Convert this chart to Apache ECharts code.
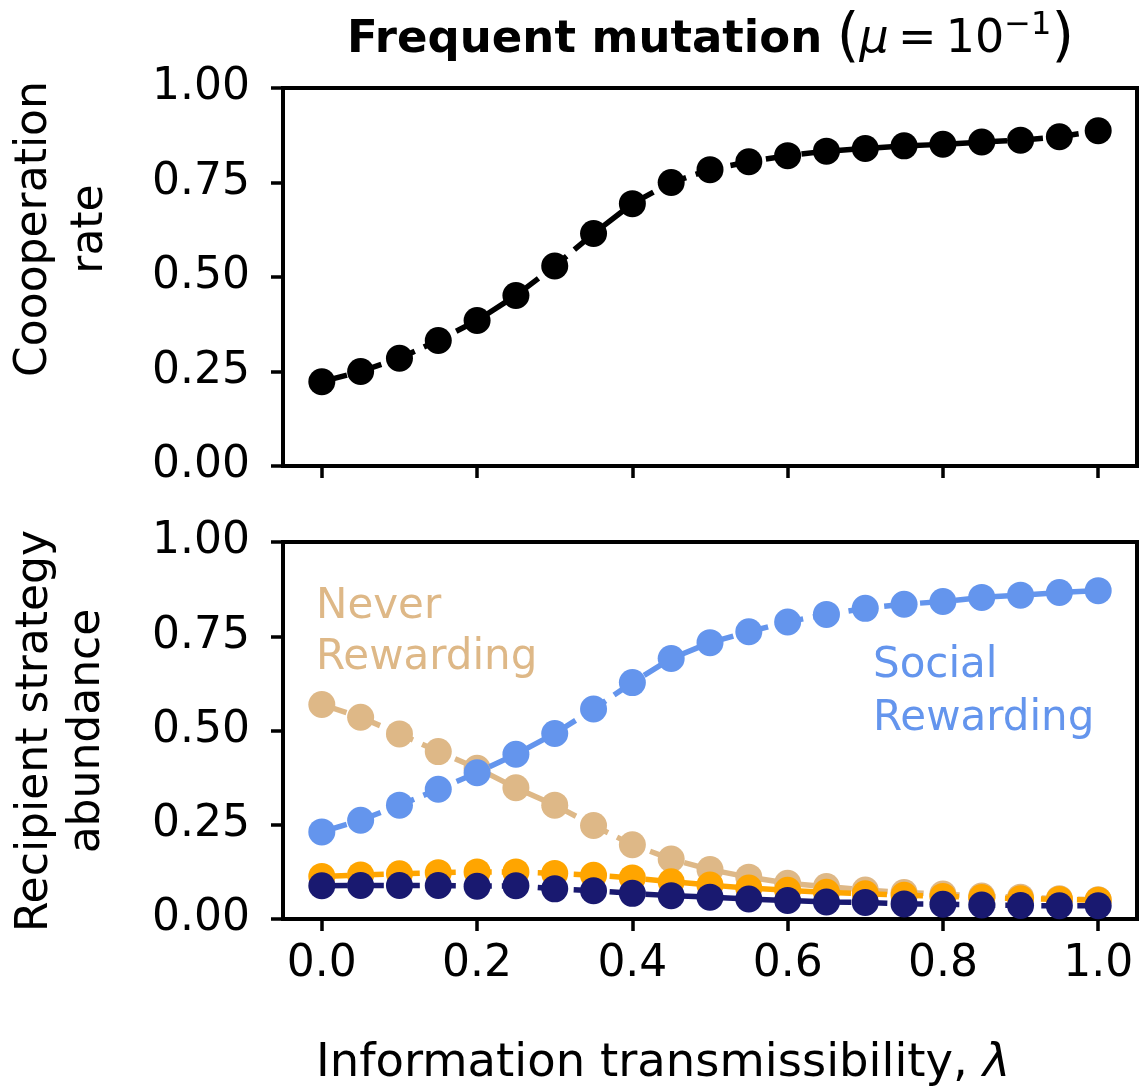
<!DOCTYPE html>
<html>
<head>
<meta charset="utf-8">
<script src="https://cdn.jsdelivr.net/npm/echarts@6/dist/echarts.min.js"></script>
<style>
  html, body { margin: 0; padding: 0; background: #fff; }
  #chart { width: 1139px; height: 1092px; }
</style>
</head>
<body>
<div id="chart"></div>
<script>
// information transmissibility values (x)
var lambda = [0, 0.05, 0.1, 0.15, 0.2, 0.25, 0.3, 0.35, 0.4, 0.45, 0.5,
  0.55, 0.6, 0.65, 0.7, 0.75, 0.8, 0.85, 0.9, 0.95, 1.0];
var xTicks = [0, 0.2, 0.4, 0.6, 0.8, 1.0];

// top panel
var coopRate = [0.223, 0.250, 0.285, 0.332, 0.385, 0.451, 0.529, 0.615, 0.694, 0.750, 0.784,
  0.805, 0.821, 0.833, 0.840, 0.847, 0.851, 0.857, 0.862, 0.871, 0.887];

// bottom panel
var neverRewarding = [0.569, 0.535, 0.491, 0.444, 0.400, 0.348, 0.302, 0.248, 0.197, 0.159, 0.131,
  0.111, 0.095, 0.086, 0.077, 0.070, 0.066, 0.061, 0.058, 0.054, 0.051];
var socialRewarding = [0.231, 0.262, 0.302, 0.344, 0.388, 0.437, 0.492, 0.557, 0.627, 0.691, 0.733,
  0.762, 0.788, 0.808, 0.824, 0.835, 0.842, 0.853, 0.859, 0.866, 0.871];
var orangeStrategy = [0.113, 0.117, 0.120, 0.123, 0.125, 0.125, 0.121, 0.116, 0.109, 0.099, 0.090,
  0.082, 0.076, 0.071, 0.067, 0.063, 0.060, 0.057, 0.054, 0.052, 0.050];
var navyStrategy = [0.088, 0.089, 0.089, 0.089, 0.087, 0.088, 0.080, 0.075, 0.068, 0.062, 0.058,
  0.053, 0.049, 0.045, 0.044, 0.040, 0.039, 0.037, 0.036, 0.035, 0.035];

var FONT = 'DejaVu Sans';

function pairs(ys) {
  return lambda.map(function (x, i) { return [x, ys[i]]; });
}

function lineSeries(name, ys, color, axis, z) {
  return {
    name: name,
    type: 'line',
    xAxisIndex: axis,
    yAxisIndex: axis,
    data: pairs(ys),
    symbol: 'circle',
    symbolSize: 27,
    z: z,
    itemStyle: { color: color },
    lineStyle: { color: color, width: 5.5, type: [26, 10] },
    animation: false
  };
}

function xAxis(idx, showLabels) {
  return {
    type: 'value',
    gridIndex: idx,
    min: -0.05,
    max: 1.05,
    axisLine: { show: false, onZero: false },
    splitLine: { show: false },
    axisTick: {
      show: true, length: 12, customValues: xTicks,
      lineStyle: { color: '#000', width: 3.5 }
    },
    axisLabel: {
      show: showLabels, customValues: xTicks, margin: 24,
      fontFamily: FONT, fontSize: 44, color: '#000',
      formatter: function (v) { return v.toFixed(1); }
    }
  };
}

function yAxis(idx) {
  return {
    type: 'value',
    gridIndex: idx,
    min: 0,
    max: 1,
    interval: 0.25,
    axisLine: { show: false, onZero: false },
    splitLine: { show: false },
    axisTick: { show: true, length: 12, lineStyle: { color: '#000', width: 3.5 } },
    axisLabel: {
      margin: 33, fontFamily: FONT, fontSize: 44, color: '#000',
      formatter: function (v) { return v.toFixed(2); }
    }
  };
}

var myChart = echarts.init(document.getElementById('chart'), null, { renderer: 'canvas' });

var option = {
  animation: false,
  backgroundColor: '#fff',
  grid: [
    { left: 283, top: 88, width: 854, height: 378, show: true, borderColor: '#000', borderWidth: 4, backgroundColor: 'transparent' },
    { left: 283, top: 542, width: 854, height: 377, show: true, borderColor: '#000', borderWidth: 4, backgroundColor: 'transparent' }
  ],
  xAxis: [xAxis(0, false), xAxis(1, true)],
  yAxis: [yAxis(0), yAxis(1)],
  series: [
    lineSeries('Cooperation rate', coopRate, '#000000', 0, 5),
    lineSeries('Never Rewarding', neverRewarding, '#DEB887', 1, 2),
    lineSeries('Orange strategy', orangeStrategy, '#FFA500', 1, 3),
    lineSeries('Social Rewarding', socialRewarding, '#6495ED', 1, 4),
    lineSeries('Navy strategy', navyStrategy, '#191970', 1, 5)
  ],
  graphic: [
    {
      type: 'text', x: 347, y: 40,
      style: {
        text: '{b|Frequent mutation}{n| }{p|(}{i|μ}{n|\u2009=\u2009}{n|10}{s|−1}{p|)}',
        align: 'left', verticalAlign: 'middle',
        rich: {
          b: { fontFamily: FONT, fontSize: 45, fontWeight: 'bold', fill: '#000', lineHeight: 60, verticalAlign: 'middle' },
          n: { fontFamily: FONT, fontSize: 46, fill: '#000', lineHeight: 60, verticalAlign: 'middle' },
          i: { fontFamily: FONT, fontSize: 46, fontStyle: 'italic', fill: '#000', lineHeight: 60, verticalAlign: 'middle' },
          p: { fontFamily: FONT, fontSize: 58, fill: '#000', lineHeight: 60, verticalAlign: 'middle' },
          s: { fontFamily: FONT, fontSize: 32, fill: '#000', lineHeight: 40, verticalAlign: 'top' }
        }
      }
    },
    {
      type: 'text', x: 63, y: 229, rotation: Math.PI / 2,
      style: {
        text: 'Coooperation\nrate', align: 'center', verticalAlign: 'middle',
        fontFamily: FONT, fontSize: 44, lineHeight: 56, fill: '#000'
      }
    },
    {
      type: 'text', x: 62, y: 731, rotation: Math.PI / 2,
      style: {
        text: 'Recipient strategy\nabundance', align: 'center', verticalAlign: 'middle',
        fontFamily: FONT, fontSize: 44, lineHeight: 52, fill: '#000'
      }
    },
    {
      type: 'text', x: 316, y: 1064,
      style: {
        text: '{n|Information transmissibility, }{i|λ}',
        align: 'left', verticalAlign: 'middle',
        rich: {
          n: { fontFamily: FONT, fontSize: 46.5, fill: '#000' },
          i: { fontFamily: FONT, fontSize: 46.5, fontStyle: 'italic', fill: '#000' }
        }
      }
    },
    {
      type: 'text', x: 316, y: 582, z: 10,
      style: {
        text: 'Never\nRewarding', align: 'left', verticalAlign: 'top',
        fontFamily: FONT, fontSize: 42, lineHeight: 51, fill: '#DEB887'
      }
    },
    {
      type: 'text', x: 873, y: 640, z: 10,
      style: {
        text: 'Social\nRewarding', align: 'left', verticalAlign: 'top',
        fontFamily: FONT, fontSize: 42, lineHeight: 53, fill: '#6495ED'
      }
    }
  ]
};

myChart.setOption(option);
</script>
</body>
</html>
